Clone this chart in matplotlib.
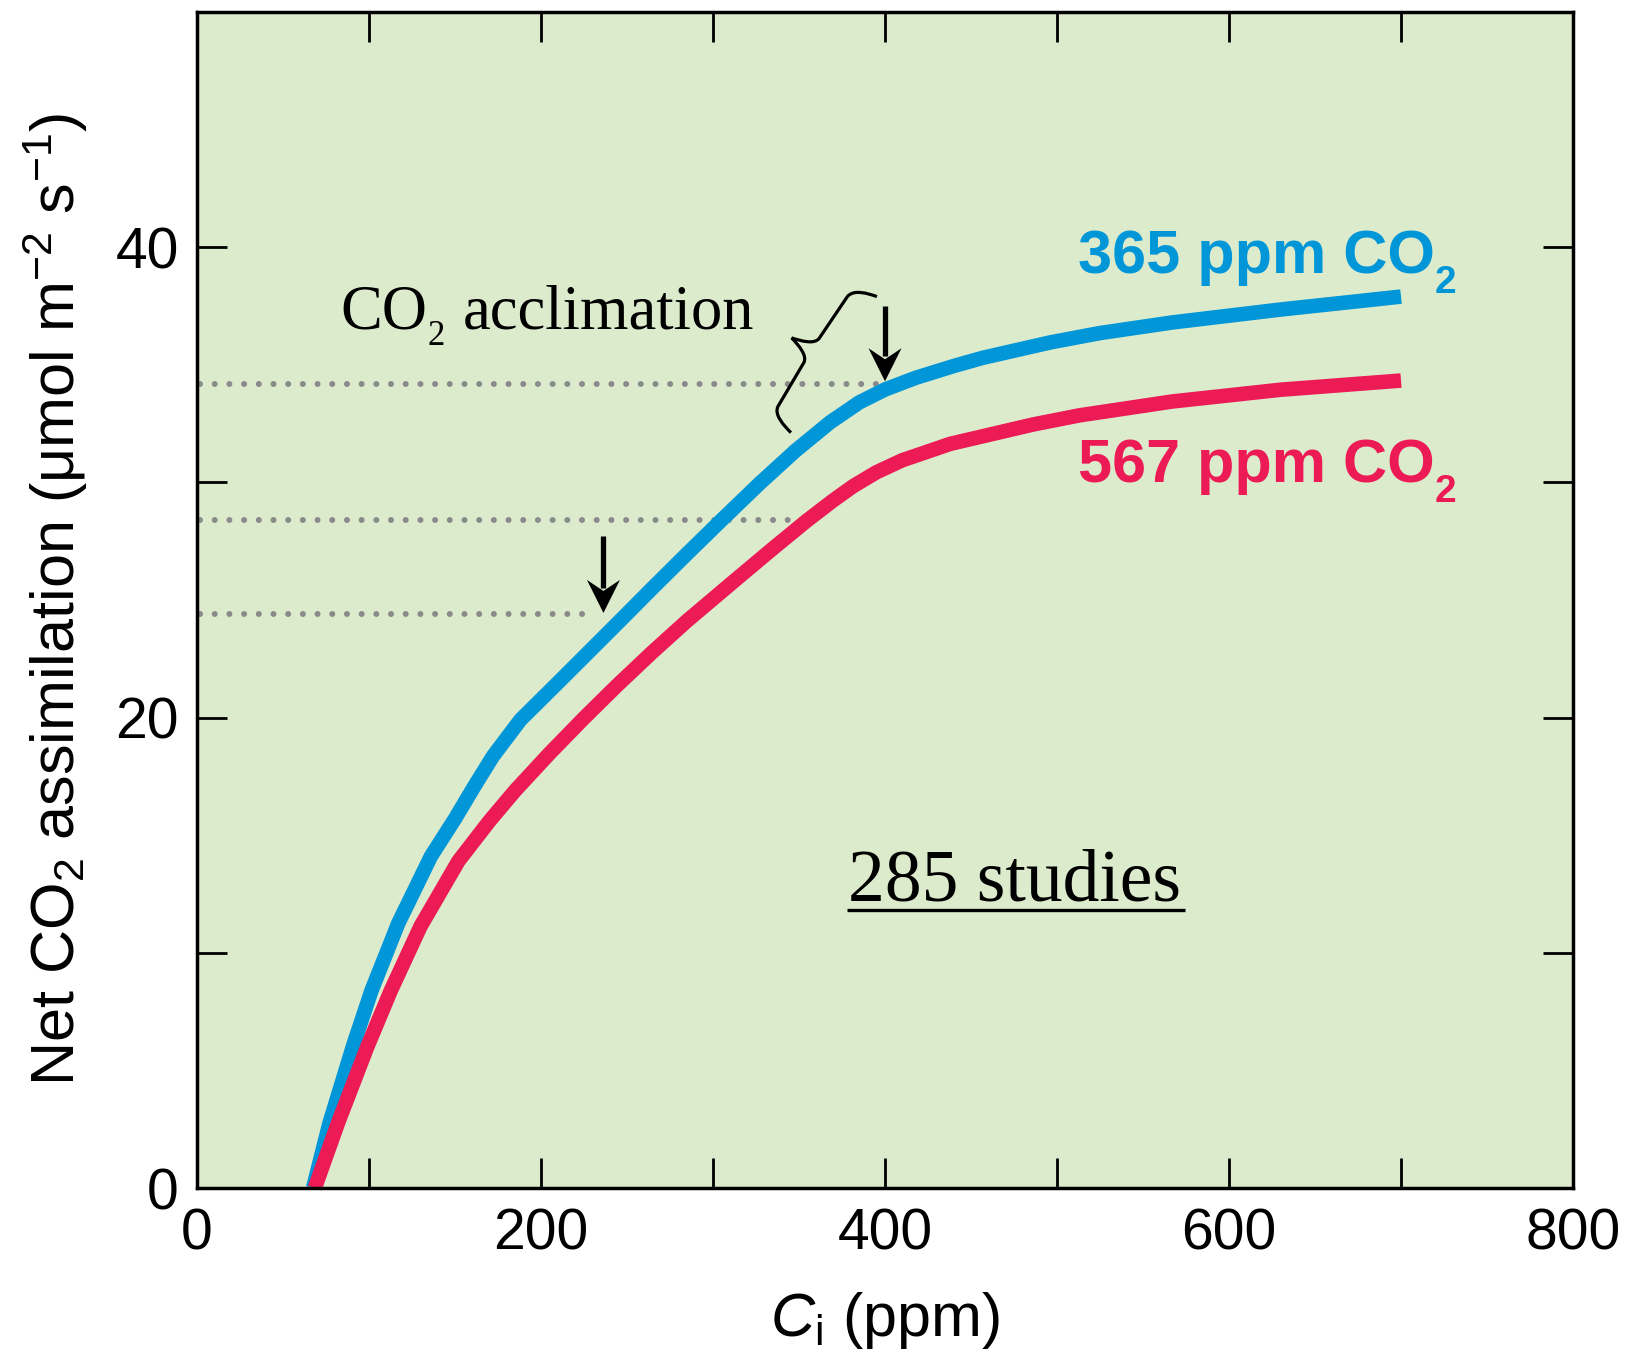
import matplotlib
matplotlib.use('Agg')
import matplotlib.pyplot as plt
from matplotlib import transforms
from matplotlib.path import Path
from matplotlib.patches import PathPatch, Polygon

plt.rcParams['font.family'] = ['Liberation Sans', 'DejaVu Sans']
plt.rcParams['mathtext.fontset'] = 'custom'
plt.rcParams['mathtext.rm'] = 'Liberation Sans'
plt.rcParams['mathtext.it'] = 'Liberation Sans:italic'
plt.rcParams['mathtext.bf'] = 'Liberation Sans:bold'

# ---------------- data ----------------
ci_365 = [67.5, 77, 91, 101.5, 117, 136, 150, 161, 172, 188, 208, 226.5, 245, 264,
          284, 305, 327, 348, 368, 385, 400, 418, 440, 457, 496, 525, 567, 630, 700]
a_365 = [0.0, 2.75, 6.1, 8.4, 11.25, 14.1, 15.7, 17.05, 18.35, 19.9, 21.35, 22.7, 24.05, 25.45,
         26.9, 28.4, 29.95, 31.35, 32.55, 33.4, 33.95, 34.45, 34.95, 35.3, 35.95, 36.35, 36.8,
         37.35, 37.9]

ci_567 = [68.5, 82, 99, 112.6, 130, 152, 170, 185, 205, 225, 244, 265, 285, 314.6,
          335, 354.5, 370, 381.5, 395, 410, 438, 486, 513, 567, 630, 700]
a_567 = [0.0, 2.77, 6.0, 8.38, 11.13, 13.9, 15.6, 16.9, 18.48, 19.98, 21.35, 22.8, 24.12, 25.95,
         27.2, 28.37, 29.24, 29.84, 30.43, 30.94, 31.64, 32.46, 32.85, 33.44, 33.94, 34.33]

series_names = ['365 ppm CO', '567 ppm CO']
series_sub = ['2', '2']

# annotation guides (dotted lines) and arrows
guide_y = [34.2, 28.4, 24.4]
guide_xend = [395, 347, 232]
arrow_x = [400, 236.3]
arrow_top = [37.5, 27.7]
arrow_tip = [34.3, 24.45]

x_major = [0, 200, 400, 600, 800]
x_minor = [100, 300, 500, 700]
y_major = [0, 20, 40]
y_minor = [10, 30, 50]

BG = '#DDEBCD'
BLUE = '#0096D8'
RED = '#EC1A55'
GREY = '#8A8A8A'

W, H = 1629, 1356
fig = plt.figure(figsize=(W / 100, H / 100), dpi=100)
ax = fig.add_axes([197 / W, 1 - 1188 / H, 1376 / W, 1176 / H])
ax.set_facecolor(BG)
ax.set_xlim(0, 800)
ax.set_ylim(0, 50)
renderer = fig.canvas.get_renderer()
IDT = transforms.IdentityTransform()


def rich(x, y, pieces, **kw):
    """pieces: (text, fontsize, baseline shift px, gap px after)."""
    X, Y = ax.transData.transform((x, y))
    for s, size, dy, gap in pieces:
        t = ax.text(X, Y + dy, s, fontsize=size, transform=IDT, ha='left',
                    va='baseline', zorder=7, **kw)
        bb = t.get_window_extent(renderer=renderer)
        X = bb.x1 + gap


# dotted guide lines
for gy, gx in zip(guide_y, guide_xend):
    ax.plot([1.5, gx], [gy, gy], color=GREY, lw=4.3, linestyle=(0, (0.01, 2.45)),
            dash_capstyle='round', zorder=2)

# curves
ax.plot(ci_365, a_365, color=BLUE, lw=10.5, solid_capstyle='butt',
        solid_joinstyle='round', zorder=3, clip_on=False)
ax.plot(ci_567, a_567, color=RED, lw=10.5, solid_capstyle='butt',
        solid_joinstyle='round', zorder=4, clip_on=False)

# arrows (shaft + notched head, head geometry in inches at 100 dpi)
for x, top, tip in zip(arrow_x, arrow_top, arrow_tip):
    trans = fig.dpi_scale_trans + transforms.ScaledTranslation(x, tip, ax.transData)
    head = [(0, 0), (-0.165, 0.33), (0, 0.22), (0.165, 0.33)]
    ax.add_patch(Polygon(head, closed=True, facecolor='black', edgecolor='none',
                         transform=trans, zorder=6))
    ax.plot([x, x], [top, tip + 0.25 / 0.2352], color='black', lw=3.8,
            solid_capstyle='butt', zorder=6)

# curly brace (local pixel frame: u along axis, v toward tip)
brace_anchor = (395.3, 37.9)
ux, uy = -0.534, -0.845
vx, vy = -0.845, 0.534
loc = [(0, 0), (2, 9), (6, 24), (16, 25), (66, 26.5), (74, 27), (78, 40), (80.5, 50),
       (83, 40), (87, 27), (95, 26.5), (145, 25), (155, 25), (159, 9), (161, 0)]
codes = [Path.MOVETO, Path.CURVE4, Path.CURVE4, Path.CURVE4, Path.LINETO,
         Path.CURVE4, Path.CURVE4, Path.CURVE4, Path.CURVE4, Path.CURVE4, Path.CURVE4,
         Path.LINETO, Path.CURVE4, Path.CURVE4, Path.CURVE4]
verts = [((u * ux + v * vx) / 100, (u * uy + v * vy) / 100) for u, v in loc]
btrans = fig.dpi_scale_trans + transforms.ScaledTranslation(*brace_anchor, ax.transData)
ax.add_patch(PathPatch(Path(verts, codes), facecolor='none', edgecolor='black',
                       lw=2.3, transform=btrans, zorder=6, capstyle='butt'))

# texts
rich(512.2, 38.9, [(series_names[0], 44, 0, 0), (series_sub[0], 28, -20, 0)],
     color=BLUE, fontweight='bold')
rich(512.2, 30.03, [(series_names[1], 44, 0, 0), (series_sub[1], 28, -20, 0)],
     color=RED, fontweight='bold')
serif = ['Liberation Serif', 'DejaVu Serif']
rich(83.1, 36.55, [('CO', 45, 0, 1), ('2', 25, -17, 18), ('acclimation', 45, 0, 0)],
     family=serif, color='black')
ax.text(378.5, 12.24, '285 studies', fontsize=53, family=serif, ha='left',
        va='baseline', zorder=7)
ax.plot([377.7, 574.4], [11.82, 11.82], color='black', lw=2.4, solid_capstyle='butt', zorder=7)

# axes styling
ax.set_xticks(x_major)
ax.set_xticks(x_minor, minor=True)
ax.set_yticks(y_major)
ax.set_yticks(y_minor, minor=True)
ax.tick_params(which='both', direction='in', length=21.6, width=2.0,
               top=True, right=True, labelsize=41, colors='black')
ax.tick_params(axis='x', which='both', pad=14)
ax.tick_params(axis='y', which='both', pad=13)
for s in ax.spines.values():
    s.set_linewidth(2.5)
    s.set_zorder(8)

ax.set_xlabel('$\\mathit{C}_{\\mathdefault{i}}$ (ppm)', fontsize=44)
ax.xaxis.set_label_coords(0.5, -0.087)
ax.set_ylabel('Net CO$_{\\mathdefault{2}}$ assimilation (μmol m$^{\\mathdefault{-2}}$ s$^{\\mathdefault{-1}}$)',
              fontsize=44)
ax.yaxis.set_label_coords(-0.078, 0.5)

fig.savefig('out.png', dpi=100, facecolor='white')
